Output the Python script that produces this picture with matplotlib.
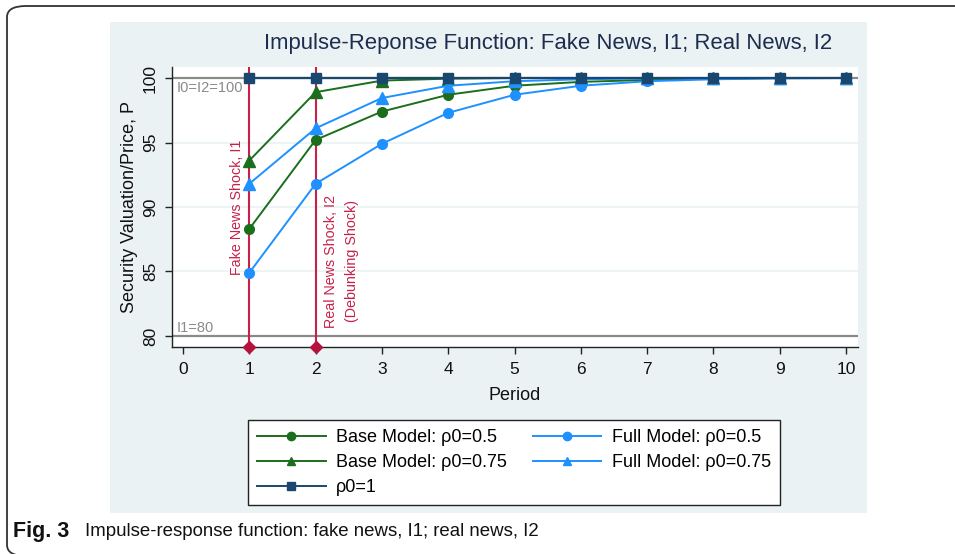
import matplotlib
matplotlib.use("Agg")
import matplotlib.pyplot as plt
from matplotlib.patches import FancyBboxPatch, Rectangle
from matplotlib.lines import Line2D

plt.rcParams['font.family'] = ['Liberation Sans', 'DejaVu Sans']

# ---- data ----
periods = [1, 2, 3, 4, 5, 6, 7, 8, 9, 10]
base_05 = [88.3, 95.2, 97.4, 98.7, 99.4, 99.7, 99.85, 99.95, 100.0, 100.0]
base_075 = [93.6, 98.9, 99.8, 99.95, 100.0, 100.0, 100.0, 100.0, 100.0, 100.0]
full_05 = [84.9, 91.8, 94.9, 97.3, 98.7, 99.4, 99.75, 99.9, 99.97, 100.0]
full_075 = [91.8, 96.1, 98.45, 99.4, 99.75, 99.9, 99.97, 100.0, 100.0, 100.0]
rho_1 = [100.0] * 10
shock_periods = [1, 2]
ref_levels = [100, 80]
xticks = list(range(0, 11))
yticks = [80, 85, 90, 95, 100]

W, H = 955, 554
fig = plt.figure(figsize=(W / 100, H / 100), dpi=100)
fig.patch.set_facecolor('white')

def fx(px):
    return px / W

def fy(py):
    return 1 - py / H

# outer rounded frame
frame = FancyBboxPatch((fx(7), fy(556)), fx(1100) - fx(7), fy(6) - fy(556),
                       boxstyle="round,pad=0,rounding_size=0.02",
                       transform=fig.transFigure, fill=False,
                       edgecolor='#333333', linewidth=1.3, zorder=-2)
fig.patches.append(frame)

# light graph region
panel = Rectangle((fx(110), fy(513)), fx(867) - fx(110), fy(22) - fy(513),
                  transform=fig.transFigure, facecolor='#EAF2F3',
                  edgecolor='none', zorder=-1)
fig.patches.append(panel)

ax = fig.add_axes([fx(172), fy(347), fx(858) - fx(172), fy(67) - fy(347)])
ax.set_zorder(3)
ax.set_facecolor('white')
ax.set_xlim(-0.166, 10.181)
ax.set_ylim(79.147, 100.853)

for s in ['top', 'right']:
    ax.spines[s].set_visible(False)
for s in ['left', 'bottom']:
    ax.spines[s].set_color('#222222')
    ax.spines[s].set_linewidth(1.0)

ax.set_xticks(xticks)
ax.set_yticks(yticks)
ax.set_yticklabels([str(v) for v in yticks], rotation=90, va='center')
ax.tick_params(axis='both', direction='out', length=5, width=1,
               color='#222222', labelsize=12.5, labelcolor='#111111')
ax.tick_params(axis='x', pad=6)
ax.tick_params(axis='y', pad=5)

for g in [85, 90, 95]:
    ax.axhline(g, color='#EAF2F3', linewidth=1.2, zorder=0.5)

for r in ref_levels:
    ax.axhline(r, color='#8a8a8a', linewidth=1.6, zorder=1)

ax.text(-0.09, 99.25, 'I0=I2=100', color='#8a8a8a', fontsize=10.5,
        ha='left', va='center')
ax.text(-0.09, 80.6, 'I1=80', color='#8a8a8a', fontsize=10.5,
        ha='left', va='center')

red = '#C8204A'
for p in shock_periods:
    ax.axvline(p, color=red, linewidth=1.5, zorder=2)
ax.plot(shock_periods, [ax.get_ylim()[0]] * 2, linestyle='none', marker='D',
        markersize=6.5, color='#B5123C', zorder=6, clip_on=False)

ax.text(0.82, 84.7, 'Fake News Shock, I1', rotation=90, color=red,
        fontsize=10.3, ha='center', va='bottom')
ax.text(2.39, 80.65, 'Real News Shock, I2\n(Debunking Shock)', rotation=90,
        color=red, fontsize=10.3, ha='center', va='bottom',
        multialignment='center', linespacing=1.65)

green = '#1B6E1B'
blue = '#1E90FF'
navy = '#1A476F'

h1, = ax.plot(periods, base_05, color=green, marker='o', markersize=7,
              linewidth=1.4, label='Base Model: \u03c10=0.5', zorder=4)
h2, = ax.plot(periods, base_075, color=green, marker='^', markersize=8,
              linewidth=1.4, label='Base Model: \u03c10=0.75', zorder=4)
h4, = ax.plot(periods, full_05, color=blue, marker='o', markersize=7,
              linewidth=1.4, label='Full Model: \u03c10=0.5', zorder=4)
h5, = ax.plot(periods, full_075, color=blue, marker='^', markersize=8,
              linewidth=1.4, label='Full Model: \u03c10=0.75', zorder=4)
h3, = ax.plot(periods, rho_1, color=navy, marker='s', markersize=7,
              linewidth=1.6, label='\u03c10=1', zorder=5)

ax.set_xlabel('Period', fontsize=13, color='#111111', labelpad=7)
ax.set_ylabel('Security Valuation/Price, P', fontsize=13, color='#111111',
              labelpad=4)

fig.text(fx(548), fy(44), 'Impulse-Reponse Function: Fake News, I1; Real News, I2',
         fontsize=15.9, color='#1E2D4F', ha='center', va='center')

leg_handles = [
    Line2D([], [], color=green, marker='o', markersize=6, linewidth=1.4),
    Line2D([], [], color=green, marker='^', markersize=6, linewidth=1.4),
    Line2D([], [], color=navy, marker='s', markersize=6, linewidth=1.4),
    Line2D([], [], color=blue, marker='o', markersize=6, linewidth=1.4),
    Line2D([], [], color=blue, marker='^', markersize=6, linewidth=1.4),
]
leg_labels = [h1.get_label(), h2.get_label(), h3.get_label(),
              h4.get_label(), h5.get_label()]
leg = fig.legend(leg_handles, leg_labels, loc='center',
                 bbox_to_anchor=(fx(514), fy(462.5)),
                 bbox_transform=fig.transFigure, ncol=2, fontsize=13,
                 frameon=True, fancybox=False, edgecolor='#222222',
                 framealpha=1.0,
                 handlelength=3.8, handletextpad=0.6, columnspacing=1.4,
                 labelspacing=0.45, borderpad=0.5)
leg.get_frame().set_linewidth(1.0)
leg.get_frame().set_facecolor('white')
leg.set_zorder(4)

fig.text(fx(13), fy(531), 'Fig. 3', fontsize=15.5, fontweight='bold',
         ha='left', va='center', color='#111111')
fig.text(fx(85), fy(531), 'Impulse-response function: fake news, I1; real news, I2',
         fontsize=13.4, ha='left', va='center', color='#111111')

fig.savefig('out.png', dpi=100)
